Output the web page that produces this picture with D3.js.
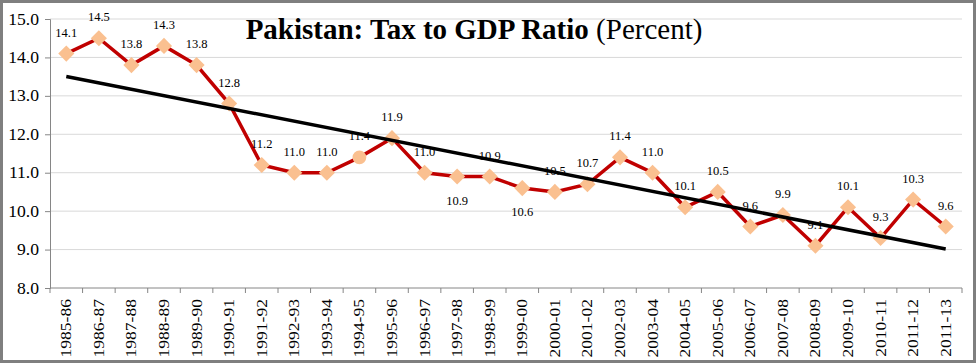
<!DOCTYPE html>
<html>
<head>
<meta charset="utf-8">
<script src="https://cdn.jsdelivr.net/npm/d3@7"></script>
<style>
  body { margin: 0; background: #fff; }
  svg { display: block; }
  text { font-family: "Liberation Serif", "Times New Roman", serif; }
</style>
</head>
<body>
<svg id="chart" width="977" height="364"></svg>
<script>

// fiscal years
const years = ["1985-86", "1986-87", "1987-88", "1988-89", "1989-90", "1990-91", "1991-92",
    "1992-93", "1993-94", "1994-95", "1995-96", "1996-97", "1997-98", "1998-99", "1999-00",
    "2000-01", "2001-02", "2002-03", "2003-04", "2004-05", "2005-06", "2006-07", "2007-08",
    "2008-09", "2009-10", "2010-11", "2011-12", "2011-13"];

// tax to GDP ratio, percent
const ratio = [14.1, 14.5, 13.8, 14.3, 13.8, 12.8, 11.2, 11.0, 11.0, 11.4, 11.9, 11.0, 10.9, 10.9,
    10.6, 10.5, 10.7, 11.4, 11.0, 10.1, 10.5, 9.6, 9.9, 9.1, 10.1, 9.3, 10.3, 9.6];

// labels that Excel put under the point
const below_labels = ["1997-98", "1999-00"];

const y_ticks = [8, 9, 10, 11, 12, 13, 14, 15];

const serif = '"Liberation Serif", "Times New Roman", serif';

const svg = d3.select('#chart');
const margin = {top: 19, right: 15, bottom: 76, left: 50};
const width = 977 - margin.left - margin.right;
const height = 364 - margin.top - margin.bottom;

// frame round the whole picture
svg.append('rect')
    .attr('x', 1.5).attr('y', 1.5)
    .attr('width', 973).attr('height', 360)
    .style('fill', 'none')
    .style('stroke', '#7f7f7f')
    .style('stroke-width', 3);

const g = svg.append('g')
    .attr('transform', 'translate(' + margin.left + ',' + margin.top + ')');

const x = d3.scaleBand().domain(years).range([0, width]);
const y = d3.scaleLinear().domain([8, 15]).range([height, 0]);

function cx(d) { return x(d) + x.bandwidth() / 2; }

// grid
g.selectAll('.grid')
    .data(y_ticks.slice(1))
    .enter().append('line')
    .attr('x1', 0).attr('x2', width)
    .attr('y1', d => y(d)).attr('y2', d => y(d))
    .style('stroke', '#d9d9d9')
    .style('stroke-width', 1);

// y axis
let y_axis = g.append('g')
    .call(d3.axisLeft(y).tickValues(y_ticks).tickFormat(d3.format('.1f')).tickSizeOuter(0).tickSize(5));
y_axis.attr('font-family', serif);
y_axis.select('.domain').style('stroke', '#868686');
y_axis.selectAll('.tick line').style('stroke', '#868686');
y_axis.selectAll('text')
    .attr('x', -10)
    .attr('transform', 'scale(1.1,1)')
    .style('font-size', '16px')
    .style('fill', '#000');

// x axis, ticks between categories
let x_axis = g.append('g')
    .attr('transform', 'translate(0,' + height + ')');
x_axis.append('line')
    .attr('x1', 0).attr('x2', width)
    .style('stroke', '#868686');
x_axis.selectAll('.xtick')
    .data(years.concat(['end']))
    .enter().append('line')
    .attr('x1', (d, i) => i * x.step())
    .attr('x2', (d, i) => i * x.step())
    .attr('y1', 0).attr('y2', 5)
    .style('stroke', '#868686');
x_axis.selectAll('.xlabel')
    .data(years)
    .enter().append('text')
    .attr('transform', d => 'translate(' + (cx(d) + 5) + ',11) rotate(-90) scale(1.17,1)')
    .attr('text-anchor', 'end')
    .style('font-size', '15px')
    .text(d => d);

// series line
const line = d3.line()
    .x((d, i) => cx(years[i]))
    .y(d => y(d));

g.append('path')
    .datum(ratio)
    .attr('d', line)
    .style('fill', 'none')
    .style('stroke', '#c00000')
    .style('stroke-width', 3.5)
    .style('stroke-linejoin', 'miter');

// markers, one of them is a circle in the original
g.selectAll('.marker')
    .data(ratio)
    .enter().append('path')
    .attr('transform', (d, i) => 'translate(' + cx(years[i]) + ',' + y(d) + ')' + (years[i] === '1994-95' ? '' : ' rotate(45)'))
    .attr('d', (d, i) => d3.symbol().type(years[i] === '1994-95' ? d3.symbolCircle : d3.symbolSquare).size(years[i] === '1994-95' ? 150 : 130)())
    .style('fill', '#fac090');

// data labels
g.selectAll('.label')
    .data(ratio)
    .enter().append('text')
    .attr('x', (d, i) => cx(years[i]))
    .attr('y', (d, i) => below_labels.includes(years[i]) ? y(d) + 28 : y(d) - 17)
    .attr('text-anchor', 'middle')
    .style('font-size', '12.5px')
    .text(d => d3.format('.1f')(d));

// linear trend from the data
const xi = ratio.map((d, i) => i);
const mx = d3.mean(xi);
const my = d3.mean(ratio);
const slope = d3.sum(xi, i => (i - mx) * (ratio[i] - my)) / d3.sum(xi, i => (i - mx) * (i - mx));
const trend = [0, ratio.length - 1].map(i => ({i: i, v: my + slope * (i - mx)}));

g.append('path')
    .datum(trend)
    .attr('d', d3.line().x(d => cx(years[d.i])).y(d => y(d.v)))
    .style('fill', 'none')
    .style('stroke', '#000')
    .style('stroke-width', 3.5);

// title
let title = svg.append('text')
    .attr('x', 474)
    .attr('y', 39)
    .attr('text-anchor', 'middle')
    .style('font-size', '29px');
title.append('tspan').style('font-weight', 'bold').text('Pakistan: Tax to GDP Ratio ');
title.append('tspan').text('(Percent)');

</script>
</body>
</html>
